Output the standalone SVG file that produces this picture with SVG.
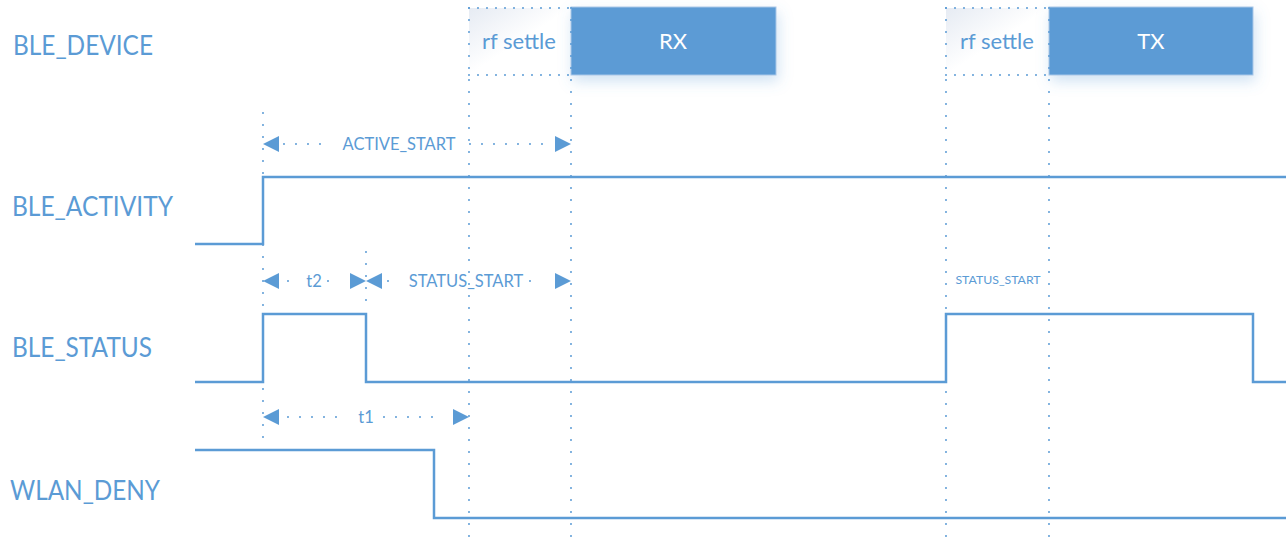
<svg xmlns="http://www.w3.org/2000/svg" width="1286" height="552" viewBox="0 0 1286 552">
<style>
.lbl{font-family:Lato,"Open Sans","Liberation Sans",sans-serif;fill:#5B9BD5;font-size:26px}
.sm{font-family:Lato,"Open Sans","Liberation Sans",sans-serif;fill:#5B9BD5;font-size:16.5px}
.tiny{font-family:Lato,"Open Sans","Liberation Sans",sans-serif;fill:#5B9BD5;font-size:12.3px}
.box{font-family:Lato,"Open Sans","Liberation Sans",sans-serif;font-size:22px}
.sig{fill:none;stroke:#5B9BD5;stroke-width:2.5}
.dot{fill:none;stroke:#5B9BD5;stroke-width:2;stroke-linecap:round;stroke-dasharray:0 12}
.dotb{fill:none;stroke:#5B9BD5;stroke-width:2;stroke-linecap:round;stroke-dasharray:0 9}
.ah{fill:#5B9BD5}
</style>
<defs>
<filter id="sh" x="-20%" y="-40%" width="140%" height="200%">
<feGaussianBlur in="SourceAlpha" stdDeviation="7"/>
<feOffset dx="2" dy="6" result="b"/>
<feFlood flood-color="#5B9BD5" flood-opacity="0.28"/>
<feComposite in2="b" operator="in"/>
<feMerge><feMergeNode/><feMergeNode in="SourceGraphic"/></feMerge>
</filter>
<linearGradient id="gr" x1="0" y1="0" x2="1" y2="1">
<stop offset="0" stop-color="#E6EBF3"/>
<stop offset="0.5" stop-color="#FFFFFF"/>
</linearGradient>
</defs>
<rect width="1286" height="552" fill="#FFFFFF"/>

<g id="labels">
<text class="lbl" x="13" y="55" textLength="140" lengthAdjust="spacingAndGlyphs">BLE_DEVICE</text>
<text class="lbl" x="12" y="216" textLength="161" lengthAdjust="spacingAndGlyphs">BLE_ACTIVITY</text>
<text class="lbl" x="12" y="357" textLength="140" lengthAdjust="spacingAndGlyphs">BLE_STATUS</text>
<text class="lbl" x="10" y="500" textLength="150" lengthAdjust="spacingAndGlyphs">WLAN_DENY</text>
</g>

<g id="rx-settle">
<rect x="469" y="8" width="102" height="67" fill="url(#gr)"/>
<text class="box" x="519" y="49" text-anchor="middle" fill="#5B9BD5">rf settle</text>
</g>
<g id="rx">
<rect x="571" y="7" width="205" height="68" fill="#5B9BD5" stroke="#A9C7E8" stroke-width="1" filter="url(#sh)"/>
<text class="box" x="673" y="49" text-anchor="middle" fill="#FFFFFF">RX</text>
</g>
<g id="tx-settle">
<rect x="946" y="8" width="103" height="67" fill="url(#gr)"/>
<text class="box" x="997" y="49" text-anchor="middle" fill="#5B9BD5">rf settle</text>
</g>
<g id="tx">
<rect x="1049" y="7" width="204" height="68" fill="#5B9BD5" stroke="#A9C7E8" stroke-width="1" filter="url(#sh)"/>
<text class="box" x="1151" y="49" text-anchor="middle" fill="#FFFFFF">TX</text>
</g>

<g id="guides">
<path class="dotb" d="M469 8H571M469 75H571M946 8H1049M946 75H1049"/>
<path class="dot" d="M469 8V548M571 8V548M946 8V548M1049 8V548"/>
<path class="dot" d="M263 113V445M366 252V302"/>
</g>

<g id="signals">
<path class="sig" d="M195 244H263V177H1286"/>
<path class="sig" d="M195 382H263V314H366V382H946V314H1253V382H1286"/>
<path class="sig" d="M195 450H434V518H1286"/>
</g>

<g id="connectors">
<path class="dot" d="M284 144H332M470 144H550"/>
<polygon class="ah" points="263,144 279,136 279,152"/>
<polygon class="ah" points="571,144 555,136 555,152"/>
<path class="dot" d="M288 281H300M328 281H340"/>
<polygon class="ah" points="263,281 279,273 279,289"/>
<polygon class="ah" points="366,281 350,273 350,289"/>
<path class="dot" d="M388 281H400M530 281H542"/>
<polygon class="ah" points="366,281 382,273 382,289"/>
<polygon class="ah" points="571,281 555,273 555,289"/>
<path class="dot" d="M288 417H348M384 417H444"/>
<polygon class="ah" points="263,417 279,409 279,425"/>
<polygon class="ah" points="469,417 453,409 453,425"/>
</g>

<g id="dim-labels">
<text class="sm" x="399" y="150" text-anchor="middle">ACTIVE_START</text>
<text class="sm" x="314" y="287" text-anchor="middle">t2</text>
<text class="sm" x="466" y="287" text-anchor="middle">STATUS_START</text>
<text class="sm" x="366" y="423" text-anchor="middle">t1</text>
<text class="tiny" x="998" y="284" text-anchor="middle">STATUS_START</text>
</g>
</svg>
